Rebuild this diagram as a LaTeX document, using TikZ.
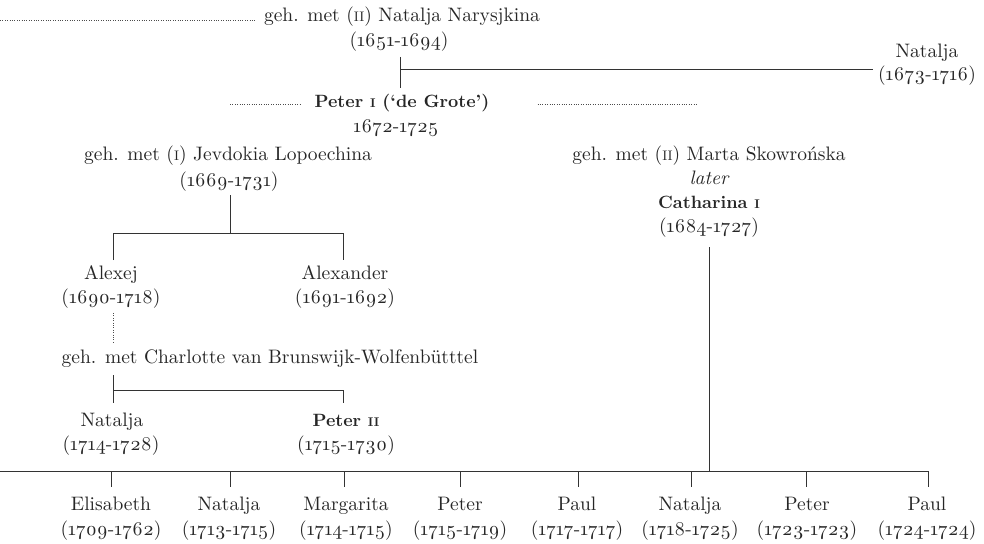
\documentclass[tikz,border=0pt]{standalone}
\usepackage{fontspec}
\usepackage{graphicx}
\setmainfont{lmroman10}[Extension=.otf, UprightFont=*-regular, BoldFont=*-bold,
  ItalicFont=*-italic, BoldItalicFont=*-bolditalic, Numbers=OldStyle]
\newcommand{\smc}[1]{\scalebox{0.71}{#1}}
\begin{document}
\begin{tikzpicture}[x=1pt,y=-1pt,
  lbl/.style={font=\fontsize{19.5}{24}\selectfont, inner sep=0pt, anchor=base, text=black!85},
  blbl/.style={lbl, font=\fontsize{17.8}{24}\selectfont\bfseries},
  ln/.style={line width=1pt, draw=black!80},
  dots/.style={line width=0.9pt, draw=black!70, dash pattern=on 0.6pt off 1.8pt}]
\useasboundingbox (0,0) rectangle (984,543);

% top generation
\node[lbl] (nm)  at (402,22) {geh. met (\smc{II}) Natalja Narysjkina};
\node[lbl] (nmd) at (399,47) {(1651-1694)};
\node[lbl] (nat)  at (927,57) {Natalja};
\node[lbl] (natd) at (927,81) {(1673-1716)};
\node[blbl] (p1)  at (402,107) {Peter \smc{I} (‘de Grote’)};
\node[lbl] (p1d) at (396,132) {1672-1725};

% wives
\node[lbl] (jev)  at (228,160) {geh. met (\smc{I}) Jevdokia Lopoechina};
\node[lbl] (jevd) at (229,186) {(1669-1731)};
\node[lbl] (mar)  at (709,160) {geh. met (\smc{II}) Marta Skowrońska};
\node[lbl] (marl) at (709,184) {\itshape later};
\node[blbl] (marc) at (709,208) {Catharina \smc{I}};
\node[lbl] (mard) at (709,232) {(1684-1727)};

% children of Jevdokia
\node[lbl] (alj)  at (111,279) {Alexej};
\node[lbl] (aljd) at (111,303) {(1690-1718)};
\node[lbl] (alx)  at (345,279) {Alexander};
\node[lbl] (alxd) at (345,303) {(1691-1692)};
\node[lbl] (cha)  at (270,363) {geh. met Charlotte van Brunswijk-Wolfenbütttel};
\node[lbl] (na2)  at (112,426) {Natalja};
\node[lbl] (na2d) at (111,450) {(1714-1728)};
\node[blbl] (p2)   at (346,426) {Peter \smc{II}};
\node[lbl] (p2d)  at (346,450) {(1715-1730)};

% children of Catharina
\foreach \n/\x/\t/\d in {c1/111/Elisabeth/1709-1762, c2/229/Natalja/1713-1715,
  c3/346/Margarita/1714-1715, c4/460/Peter/1715-1719, c5/577/Paul/1717-1717,
  c6/690/Natalja/1718-1725, c7/807/Peter/1723-1723, c8/927/Paul/1724-1724}{
  \node[lbl] (\n) at (\x,510) {\t};
  \node[lbl] (\n d) at (\x,535) {(\d)};
}

% coordinates
\coordinate (topL) at (0,20);
\coordinate (pL) at (230,104);
\coordinate (pR) at (698,104);
\coordinate (nmj) at (400,69);
\coordinate (natj) at (873,69);
\coordinate (jevj) at (230,233);
\coordinate (chaj) at (113,390);
\coordinate (botL) at (0,471);
\coordinate (botR) at (928,471);

% dotted lines
\draw[dots] (topL) -- ([xshift=-8pt,yshift=2pt]nm.base west);
\draw[dots] (pL) -- ([xshift=-14pt,yshift=3pt]p1.base west);
\draw[dots] ([xshift=48pt,yshift=3pt]p1.base east) -- (pR);
\draw[dots] (113,313) -- (113,342);

% Natalja Narysjkina branch
\draw[ln] (400,57) -- (400,88);
\draw[ln] (nmj) -- (natj);

% Jevdokia branch
\draw[ln] (230,195) -- (jevj);
\draw[ln] (113,260) -- (113,233) -- (343,233) -- (343,260);

% Charlotte branch
\draw[ln] (113,375) -- (113,403);
\draw[ln] (chaj) -- (343,390) -- (343,403);

% Catharina branch
\draw[ln] (709,247) -- (709,471);
\draw[ln] (botL) -- (botR) -- (928,487);
\foreach \x in {111,230,344,460,578,691,806}{
  \draw[ln] (\x,471) -- (\x,487);
}
\end{tikzpicture}
\end{document}
